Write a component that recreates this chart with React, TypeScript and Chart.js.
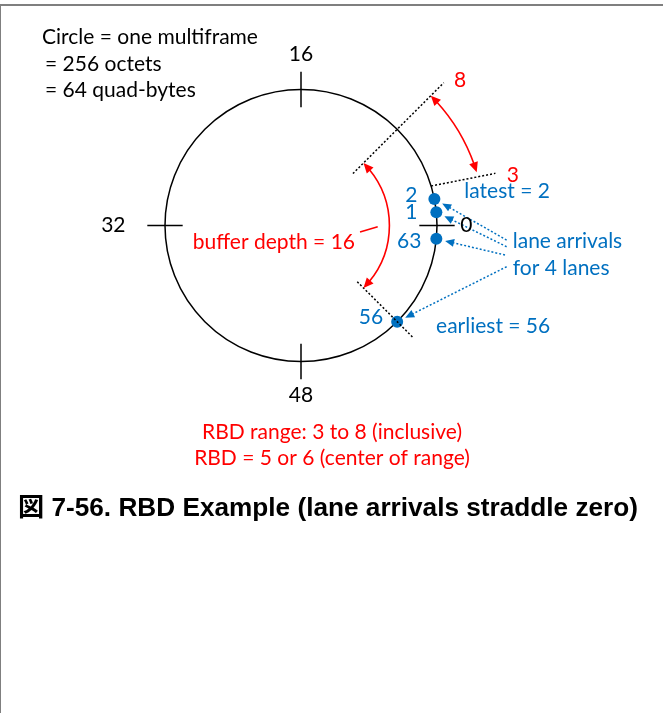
import React, { useEffect, useRef } from "react";
import { Chart, registerables } from "chart.js";

Chart.register(...registerables);

// ---- data ----
const QUAD_BYTES_PER_MULTIFRAME = 64;
const TICK_VALUES = [0, 16, 32, 48];
const TICK_LABELS = ["0", "16", "32", "48"];
const LANE_ARRIVALS = [2, 1, 63, 56];
const LANE_LABELS = ["2", "1", "63", "56"];
const LATEST = 2;
const EARLIEST = 56;
const RBD_MIN = 3;
const RBD_MAX = 8;
const BUFFER_DEPTH = 16;
const HEADER_LINES = ["Circle = one multiframe", "= 256 octets", "= 64 quad-bytes"];
const LANE_NOTE = ["lane arrivals", "for 4 lanes"];
const RBD_LINES = ["RBD range: 3 to 8 (inclusive)", "RBD = 5 or 6 (center of range)"];
const CAPTION = "図 7-56. RBD Example (lane arrivals straddle zero)";

// ---- styles ----
const BLUE = "#0070C0";
const RED = "#FF0000";
const FONT = "Lato, 'Open Sans', sans-serif";
const CAPTION_FONT = "bold 26.2px 'Liberation Sans', Arial, 'Noto Sans CJK JP', sans-serif";

const ang = (v: number) => (v / QUAD_BYTES_PER_MULTIFRAME) * 2 * Math.PI;
const pol = (v: number, r: number) => ({ x: r * Math.cos(ang(v)), y: r * Math.sin(ang(v)) });

const W = 663;
const H = 713;
const PX_PER_UNIT = 136;
const CX = 301;
const CY = 225.5;

const diagramPlugin = {
  id: "diagram",
  beforeDatasetsDraw(chart: any) {
    const ctx = chart.ctx;
    const xs = chart.scales.x;
    const ys = chart.scales.y;
    const X = (v: number) => xs.getPixelForValue(v);
    const Y = (v: number) => ys.getPixelForValue(v);
    const rpx = X(1) - X(0);
    ctx.save();
    ctx.strokeStyle = "#000";
    ctx.lineWidth = 1.5;
    ctx.beginPath();
    ctx.arc(X(0), Y(0), rpx, 0, Math.PI * 2);
    ctx.stroke();
    ctx.restore();
  },
  afterDatasetsDraw(chart: any) {
    const ctx = chart.ctx;
    const xs = chart.scales.x;
    const ys = chart.scales.y;
    const X = (v: number) => xs.getPixelForValue(v);
    const Y = (v: number) => ys.getPixelForValue(v);
    const rpx = X(1) - X(0);
    const P = (d: { x: number; y: number }) => ({ x: X(d.x), y: Y(d.y) });

    const head = (tip: any, from: any, len: number, half: number, color: string) => {
      const dx = tip.x - from.x;
      const dy = tip.y - from.y;
      const L = Math.hypot(dx, dy) || 1;
      const ux = dx / L;
      const uy = dy / L;
      const bx = tip.x - ux * len;
      const by = tip.y - uy * len;
      ctx.fillStyle = color;
      ctx.beginPath();
      ctx.moveTo(tip.x, tip.y);
      ctx.lineTo(bx - uy * half, by + ux * half);
      ctx.lineTo(bx + uy * half, by - ux * half);
      ctx.closePath();
      ctx.fill();
    };

    // double-headed arc arrow from value a to value b (a > b, clockwise) at radius r
    const arcArrow = (a: number, b: number, r: number) => {
      const cx = X(0);
      const cy = Y(0);
      const rr = r * rpx;
      const headLen = 10;
      const d = headLen / rr;
      const aA = ang(a);
      const aB = ang(b);
      ctx.strokeStyle = RED;
      ctx.lineWidth = 1.6;
      ctx.beginPath();
      ctx.arc(cx, cy, rr, -(aA - d * 0.8), -(aB + d * 0.8), false);
      ctx.stroke();
      const pt = (t: number) => ({ x: cx + rr * Math.cos(t), y: cy - rr * Math.sin(t) });
      head(pt(aA), pt(aA - d), headLen, 4.5, RED);
      head(pt(aB), pt(aB + d), headLen, 4.5, RED);
    };

    const text = (s: string, d: { x: number; y: number }, color: string, align: any, font: string) => {
      ctx.font = font;
      ctx.fillStyle = color;
      ctx.textAlign = align;
      ctx.textBaseline = "middle";
      ctx.fillText(s, X(d.x), Y(d.y));
    };
    const f21 = `21px ${FONT}`;

    ctx.save();

    // RBD range arc (outside) and buffer depth arc (inside)
    arcArrow(RBD_MAX, RBD_MIN, 1.35);
    arcArrow(EARLIEST + BUFFER_DEPTH, EARLIEST, 0.65);

    // leader line for buffer depth label
    ctx.strokeStyle = RED;
    ctx.lineWidth = 1.5;
    ctx.beginPath();
    ctx.moveTo(X(0.434), Y(-0.048));
    ctx.lineTo(X(0.564), Y(-0.009));
    ctx.stroke();

    // blue dotted arrows from note to each lane arrival
    const sources = [
      { x: 1.512, y: -0.107 },
      { x: 1.512, y: -0.156 },
      { x: 1.5, y: -0.217 },
      { x: 1.512, y: -0.303 },
    ];
    LANE_ARRIVALS.forEach((v, i) => {
      const dot = P(pol(v, 1));
      const src = P(sources[i]);
      const dx = src.x - dot.x;
      const dy = src.y - dot.y;
      const L = Math.hypot(dx, dy);
      const tip = { x: dot.x + (dx / L) * 9, y: dot.y + (dy / L) * 9 };
      ctx.strokeStyle = BLUE;
      ctx.lineWidth = 1.5;
      ctx.setLineDash([2, 2]);
      ctx.beginPath();
      ctx.moveTo(src.x, src.y);
      ctx.lineTo(tip.x + (dx / L) * 6, tip.y + (dy / L) * 6);
      ctx.stroke();
      ctx.setLineDash([]);
      head(tip, src, 9, 4, BLUE);
    });

    // header text
    text(HEADER_LINES[0], { x: -1.904, y: 1.386 }, "#000", "left", f21);
    text(HEADER_LINES[1], { x: -1.882, y: 1.1875 }, "#000", "left", f21);
    text(HEADER_LINES[2], { x: -1.882, y: 0.996 }, "#000", "left", f21);

    // tick labels
    const tickR = [1.215, 1.26, 1.38, 1.25];
    TICK_VALUES.forEach((v, i) => {
      text(TICK_LABELS[i], pol(v, tickR[i]), "#000", "center", f21);
    });

    // RBD bound labels
    text(String(RBD_MAX), { x: 1.169, y: 1.07 }, RED, "center", f21);
    text(String(RBD_MIN), { x: 1.557, y: 0.371 }, RED, "center", f21);
    text(`buffer depth = ${BUFFER_DEPTH}`, { x: 0.397, y: -0.121 }, RED, "right", f21);

    // lane labels (offset left of each dot)
    const labelDx = [-17, -19, -15, -14];
    const labelDy = [-4, 0, 2, -4];
    LANE_ARRIVALS.forEach((v, i) => {
      const dot = P(pol(v, 1));
      ctx.font = f21;
      ctx.fillStyle = BLUE;
      ctx.textAlign = "right";
      ctx.textBaseline = "middle";
      ctx.fillText(LANE_LABELS[i], dot.x + labelDx[i], dot.y + labelDy[i]);
    });
    text(`latest = ${LATEST}`, { x: 1.201, y: 0.254 }, BLUE, "left", f21);
    text(`earliest = ${EARLIEST}`, { x: 0.993, y: -0.744 }, BLUE, "left", f21);
    text(LANE_NOTE[0], { x: 1.557, y: -0.1125 }, BLUE, "left", f21);
    text(LANE_NOTE[1], { x: 1.557, y: -0.315 }, BLUE, "left", f21);

    // RBD summary
    text(RBD_LINES[0], { x: 0.228, y: -1.518 }, RED, "center", f21);
    text(RBD_LINES[1], { x: 0.228, y: -1.71 }, RED, "center", f21);

    // caption
    text(CAPTION, { x: -2.081, y: -2.083 }, "#000", "left", CAPTION_FONT);

    ctx.restore();
  },
};

export default function App() {
  const ref = useRef<HTMLCanvasElement>(null);

  useEffect(() => {
    if (!ref.current) return;
    const dashed = {
      showLine: true,
      borderColor: "#000",
      borderWidth: 1.5,
      borderDash: [2, 2],
      pointRadius: 0,
    };
    const datasets: any[] = [
      ...TICK_VALUES.map((v) => ({
        data: [pol(v, 0.87), pol(v, 1.13)],
        showLine: true,
        borderColor: "#000",
        borderWidth: 1.5,
        pointRadius: 0,
      })),
      { ...dashed, data: [pol(RBD_MAX, 0.54), pol(RBD_MAX, 1.485)] },
      { ...dashed, data: [pol(RBD_MIN, 1.0), pol(RBD_MIN - 0.33, 1.48)] },
      { ...dashed, data: [pol(EARLIEST, 0.585), pol(EARLIEST, 1.16)] },
      {
        data: LANE_ARRIVALS.map((v) => pol(v, 1)),
        showLine: false,
        pointRadius: 6,
        pointBackgroundColor: BLUE,
        pointBorderWidth: 0,
        borderColor: BLUE,
      },
    ];
    const chart = new Chart(ref.current, {
      type: "scatter",
      data: { datasets },
      options: {
        animation: false,
        responsive: false,
        events: [],
        layout: { padding: 0, autoPadding: false },
        plugins: { legend: { display: false }, tooltip: { enabled: false } },
        scales: {
          x: { type: "linear", display: false, min: -CX / PX_PER_UNIT, max: (W - CX) / PX_PER_UNIT },
          y: { type: "linear", display: false, min: -(H - CY) / PX_PER_UNIT, max: CY / PX_PER_UNIT },
        },
      },
      plugins: [diagramPlugin],
    } as any);
    return () => chart.destroy();
  }, []);

  return (
    <div style={{ position: "fixed", left: 0, top: 0, width: W, height: H, background: "#fff" }}>
      <canvas ref={ref} width={W} height={H} style={{ display: "block", width: W, height: H }} />
      <div
        style={{
          position: "absolute",
          left: 0,
          top: 4,
          width: W,
          height: H - 4,
          boxSizing: "border-box",
          borderTop: "2px solid #7f7f7f",
          borderLeft: "1px solid #7f7f7f",
          pointerEvents: "none",
        }}
      />
    </div>
  );
}
